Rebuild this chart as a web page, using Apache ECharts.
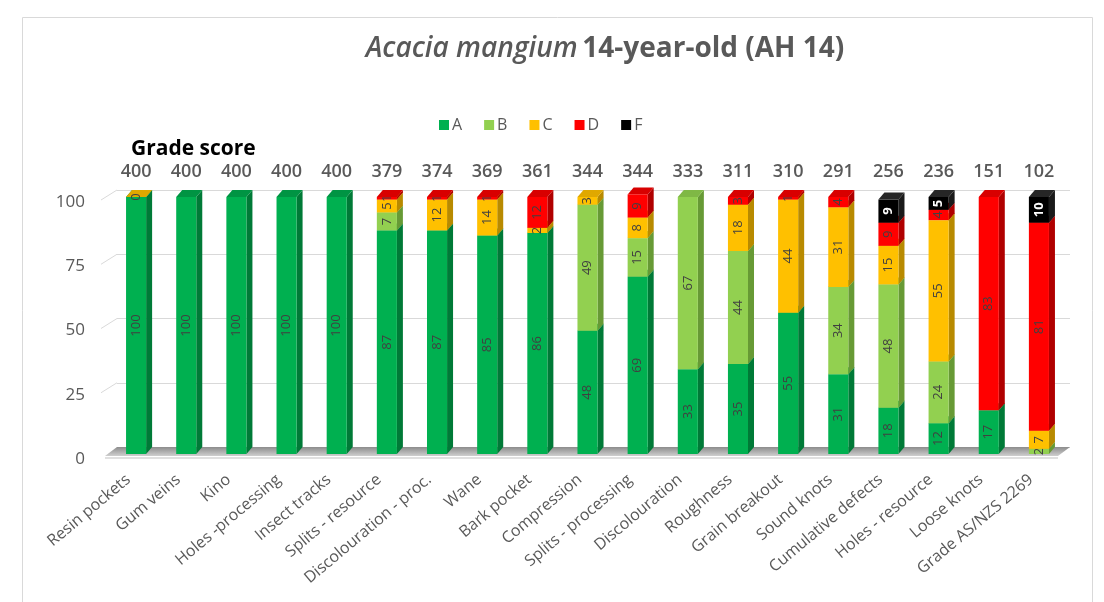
<!DOCTYPE html>
<html>
<head>
<meta charset="utf-8">
<script src="https://cdn.jsdelivr.net/npm/echarts@6/dist/echarts.min.js"></script>
<style>
  html, body { margin: 0; padding: 0; background: #fff; }
  #chart { width: 1104px; height: 602px; }
</style>
</head>
<body>
<div id="chart"></div>
<script>
const categories = ['Resin pockets', 'Gum veins', 'Kino', 'Holes -processing', 'Insect tracks',
  'Splits - resource', 'Discolouration - proc.', 'Wane', 'Bark pocket', 'Compression',
  'Splits - processing', 'Discolouration', 'Roughness', 'Grain breakout', 'Sound knots',
  'Cumulative defects', 'Holes - resource', 'Loose knots', 'Grade AS/NZS 2269'];
const gradeScore = [400, 400, 400, 400, 400, 379, 374, 369, 361, 344, 344, 333, 311, 310, 291, 256, 236, 151, 102];

// percentage of pieces in each grade (null = not present)
const gradeA = [100, 100, 100, 100, 100, 87, 87, 85, 86, 48, 69, 33, 35, 55, 31, 18, 12, 17, null];
const gradeB = [null, null, null, null, null, 7, null, null, null, 49, 15, 67, 44, null, 34, 48, 24, null, 2];
const gradeC = [0, null, null, null, null, 5, 12, 14, 2, 3, 8, null, 18, 44, 31, 15, 55, null, 7];
const gradeD = [null, null, null, null, null, 1, 1, 1, 12, null, 9, null, 3, 1, 4, 9, 4, 83, 81];
const gradeF = [null, null, null, null, null, null, null, null, null, null, null, null, null, null, null, 9, 5, null, 10];
const yTicks = [0, 25, 50, 75, 100];

const grades = [
  { name: 'A', values: gradeA, color: '#00b050', side: '#007a37', top: '#009443', text: '#404040' },
  { name: 'B', values: gradeB, color: '#92d050', side: '#679a35', top: '#7fb845', text: '#404040' },
  { name: 'C', values: gradeC, color: '#ffc000', side: '#b88a00', top: '#e0a800', text: '#404040' },
  { name: 'D', values: gradeD, color: '#ff0000', side: '#b00000', top: '#d80000', text: '#404040' },
  { name: 'F', values: gradeF, color: '#000000', side: '#1a1a1a', top: '#262626', text: '#ffffff' }
];

// 3D depth of the bars (front face is shifted left/down from the back plane)
const DX = 6, DY = 7;

var chart = echarts.init(document.getElementById('chart'));

const bases = categories.map(() => 0);
const barSeries = grades.map((g) => {
  const data = [];
  g.values.forEach((v, i) => {
    if (v === null) return;
    data.push([i, bases[i], v]);
    bases[i] += v;
  });
  return {
    name: g.name,
    type: 'custom',
    itemStyle: { color: g.color },
    encode: { x: 0, y: 1 },
    data: data,
    renderItem: function (params, api) {
      const i = api.value(0), b = api.value(1), v = api.value(2);
      const p0 = api.coord([i, b]);
      const p1 = api.coord([i, b + v]);
      const w = api.size([1, 0])[0] * 0.4;
      const xl = p0[0] - w / 2 - DX, xr = xl + w;
      const yb = p0[1] + DY, yt = p1[1] + DY;
      return {
        type: 'group',
        children: [
          { type: 'polygon', shape: { points: [[xr, yb], [xr + DX, yb - DY], [xr + DX, yt - DY], [xr, yt]] },
            style: { fill: g.side } },
          { type: 'polygon', shape: { points: [[xl, yt], [xr, yt], [xr + DX, yt - DY], [xl + DX, yt - DY]] },
            style: { fill: g.top } },
          { type: 'rect', shape: { x: xl, y: yt, width: w, height: yb - yt }, style: { fill: g.color } },
          { type: 'text', x: xl + w / 2, y: (yb + yt) / 2, rotation: Math.PI / 2,
            style: { text: String(v), align: 'center', verticalAlign: 'middle', fill: g.text,
              font: (g.name === 'F' ? 'bold ' : '') + '13px "Open Sans"' } }
        ]
      };
    }
  };
});

// floor and left wall edges of the 3D plot
const floorSeries = {
  name: 'floor',
  type: 'custom',
  silent: true,
  z: 1,
  data: [[0, 0]],
  encode: { x: 0, y: 1 },
  renderItem: function (params, api) {
    const bw = api.size([1, 0])[0];
    const a = api.coord([0, 0]);
    const z = api.coord([categories.length - 1, 0]);
    const x0 = a[0] - bw / 2, x1 = z[0] + bw / 2, y0 = a[1];
    const children = [
      { type: 'polygon', shape: { points: [[x0, y0], [x1, y0], [x1 - 12, y0 + 9], [x0 - 12, y0 + 9]] },
        style: { fill: new echarts.graphic.LinearGradient(0, 0, 0, 1, [
          { offset: 0, color: '#8c8c8c' }, { offset: 1, color: '#cfcfcf' }]) } },
      { type: 'line', shape: { x1: x0 - 12, y1: y0 + 11, x2: x1 - 12, y2: y0 + 11 },
        style: { stroke: '#e0e0e0', lineWidth: 2 } }
    ];
    yTicks.forEach((t) => {
      if (t === 0) return;
      const p = api.coord([0, t]);
      children.push({ type: 'line', shape: { x1: x0, y1: p[1], x2: x0 - 16, y2: p[1] + 10 },
        style: { stroke: '#d9d9d9', lineWidth: 1 } });
    });
    return { type: 'group', children: children };
  }
};

const option = {
  animation: false,
  textStyle: { fontFamily: '"Open Sans", sans-serif' },
  title: [
    {
      text: '{i|Acacia mangium} {b|14-year-old (AH 14)}',
      left: 600, top: 30, textAlign: 'center',
      textStyle: {
        rich: {
          i: { fontSize: 28, fontStyle: 'italic', fontWeight: 600, color: '#595959', fontFamily: '"Open Sans"' },
          b: { fontSize: 28, fontWeight: 'bold', color: '#595959', fontFamily: '"Open Sans"' }
        }
      }
    },
    {
      text: 'Grade score',
      left: 126, top: 134,
      textStyle: { fontSize: 21, fontWeight: 'bold', color: '#000', fontFamily: '"Open Sans"' }
    }
  ],
  legend: {
    data: grades.map((g) => g.name),
    icon: 'rect',
    left: 434, top: 112,
    itemWidth: 10, itemHeight: 10, itemGap: 22,
    textStyle: { fontSize: 16, color: '#595959', padding: [0, 0, 0, -2] }
  },
  graphic: [
    { type: 'rect', left: 20, top: 15, shape: { width: 1070, height: 620 },
      style: { fill: 'none', stroke: '#d9d9d9', lineWidth: 1 }, silent: true }
  ],
  grid: { left: 117, right: 34, top: 190, bottom: 155 },
  xAxis: [
    {
      type: 'category',
      data: categories,
      axisLine: { show: false },
      axisTick: { show: false },
      axisLabel: { interval: 0, rotate: 40, margin: 19, fontSize: 16, color: '#595959',
        padding: [0, 18, 0, 0] }
    },
    {
      type: 'category',
      position: 'top',
      data: gradeScore.map(String),
      axisLine: { show: false },
      axisTick: { show: false },
      axisLabel: { interval: 0, margin: 9, fontSize: 18, fontWeight: 600, color: '#595959',
        padding: [0, 12, 0, 0] }
    }
  ],
  yAxis: {
    type: 'value',
    min: 0, max: 100, interval: 25,
    axisLine: { show: false },
    axisTick: { show: false },
    axisLabel: { fontSize: 17, color: '#595959', margin: 32, verticalAlign: 'top', lineHeight: 24 },
    splitLine: { lineStyle: { color: '#d9d9d9' } }
  },
  series: [floorSeries].concat(barSeries)
};

chart.setOption(option);
</script>
</body>
</html>
